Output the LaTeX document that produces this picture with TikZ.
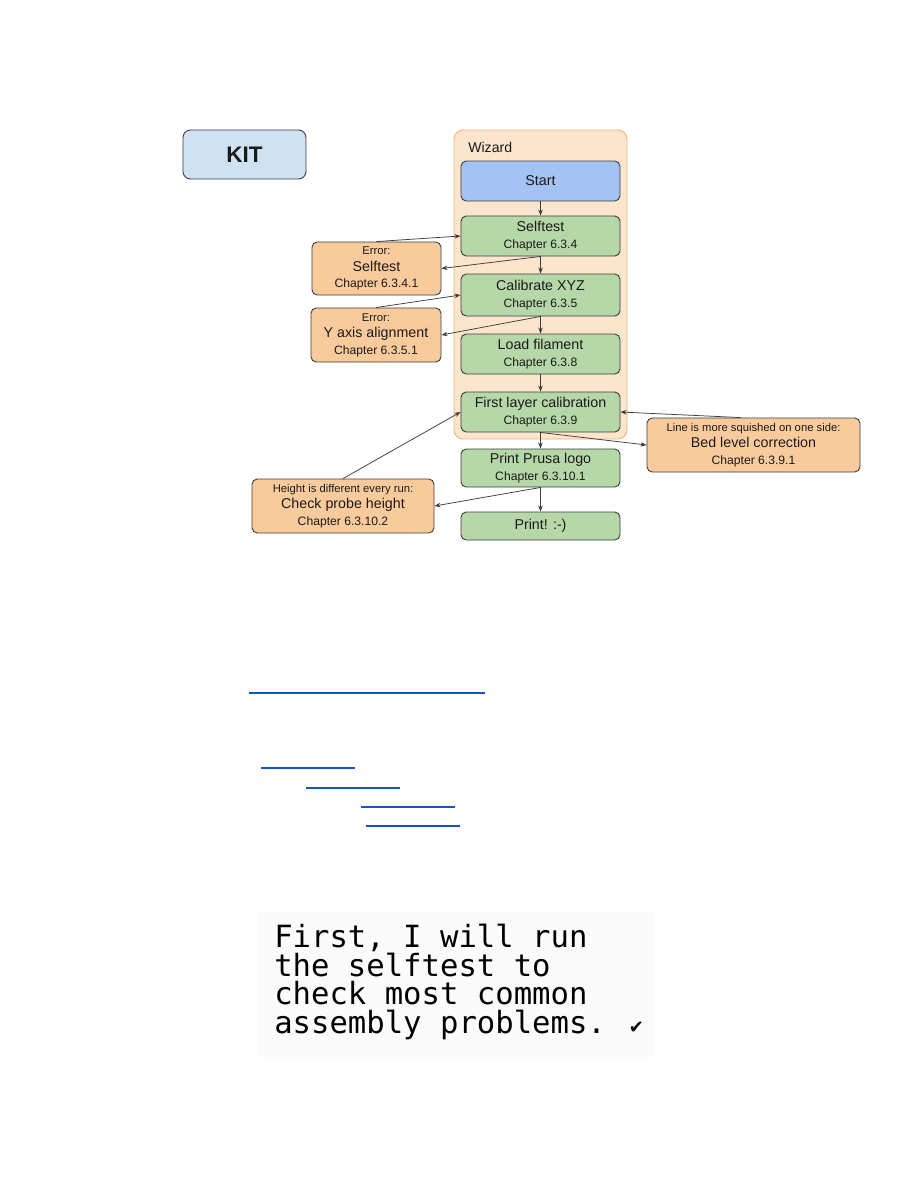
\documentclass[tikz,border=0pt]{standalone}
\usepackage{fontspec}
\setmainfont{Liberation Sans}
\newfontfamily\lcdfont{DejaVu Sans Mono}
\newfontfamily\symfont{DejaVu Sans}
\usetikzlibrary{arrows.meta,calc}
\definecolor{boxgreen}{HTML}{B6D7A8}
\definecolor{boxorange}{HTML}{F9CB9C}
\definecolor{wizfill}{HTML}{FCE5CD}
\definecolor{wizdraw}{HTML}{F6B26B}
\definecolor{kitblue}{HTML}{CFE2F3}
\definecolor{startblue}{HTML}{A4C2F4}
\definecolor{linkblue}{HTML}{1155CC}
\definecolor{edgegray}{HTML}{3C3C3C}
\definecolor{txtdark}{HTML}{1A1A1A}
\definecolor{lcdbg}{HTML}{FBFBFB}
\newlength\pxl \setlength\pxl{0.66667pt}
\newcommand\lblmain{\fontsize{9.5pt}{11.5pt}\selectfont}
\newcommand\lblchap{\fontsize{8.1pt}{11pt}\selectfont}
\newcommand\lblsmall{\fontsize{7.5pt}{10.5pt}\selectfont}
\tikzset{
  basebox/.style={draw=edgegray, line width=0.6pt, rounded corners=3.5pt, inner sep=0pt,
    align=center, text=txtdark, font=\lblchap},
  stepbox/.style={basebox, fill=boxgreen, minimum width=159*\pxl},
  errbox/.style={basebox, fill=boxorange},
  conn/.style={draw=edgegray, line width=0.5pt, -{Stealth[length=4pt,width=3pt]}},
  linkline/.style={draw=linkblue, line width=0.7pt},
}
\begin{document}
\begin{tikzpicture}[x=0.66667pt, y=-0.66667pt]
\useasboundingbox (0,0) rectangle (918,1188);

% KIT box
\node[basebox, fill=kitblue, rounded corners=5pt, minimum width=123*\pxl, minimum height=49*\pxl,
  font=\fontsize{15pt}{17pt}\selectfont\bfseries] (kit) at (244.5,154.5) {KIT};

% Wizard container
\node[draw=wizdraw, fill=wizfill, line width=0.6pt, rounded corners=6pt, inner sep=0pt,
  minimum width=173*\pxl, minimum height=309*\pxl] (wiz) at (540.5,284.5) {};
\node[anchor=west, inner sep=0pt, text=txtdark, font=\fontsize{9.4pt}{11pt}\selectfont] (wizlabel) at (468,147) {Wizard};

% Steps
\node[stepbox, fill=startblue, minimum height=40*\pxl, font=\lblmain] (start) at (540.5,181) {Start};
\node[stepbox, minimum height=40*\pxl] (self) at (540.5,236) {{\lblmain Selftest}\\Chapter 6.3.4};
\node[stepbox, minimum height=42*\pxl] (cal) at (540.5,295) {{\lblmain Calibrate XYZ}\\Chapter 6.3.5};
\node[stepbox, minimum height=40*\pxl] (load) at (540.5,354) {{\lblmain Load filament}\\Chapter 6.3.8};
\node[stepbox, minimum height=40*\pxl] (first) at (540.5,412) {{\lblmain First layer calibration}\\Chapter 6.3.9};
\node[stepbox, minimum height=38*\pxl] (prusa) at (540.5,468) {{\lblmain Print Prusa logo}\\Chapter 6.3.10.1};
\node[stepbox, minimum height=28*\pxl, font=\lblmain] (print) at (540.5,526) {Print! :-)};

% Error / correction boxes
\node[errbox, minimum width=129*\pxl, minimum height=53*\pxl] (errself) at (376.5,268.5)
  {{\lblsmall Error:}\\{\lblmain Selftest}\\Chapter 6.3.4.1};
\node[errbox, minimum width=130*\pxl, minimum height=54*\pxl] (erry) at (376,335)
  {{\lblsmall Error:}\\{\lblmain Y axis alignment}\\Chapter 6.3.5.1};
\node[errbox, minimum width=182*\pxl, minimum height=54*\pxl] (probe) at (343,506)
  {{\lblsmall Height is different every run:}\\{\lblmain Check probe height}\\Chapter 6.3.10.2};
\node[errbox, minimum width=213*\pxl, minimum height=54*\pxl] (bed) at (753.5,445)
  {{\lblsmall Line is more squished on one side:}\\{\lblmain Bed level correction}\\Chapter 6.3.9.1};

% Connectors
\draw[conn] (start) -- (self);
\draw[conn] (self) -- (cal);
\draw[conn] (cal) -- (load);
\draw[conn] (load) -- (first);
\draw[conn] (first) -- (prusa);
\draw[conn] (prusa) -- (print);
\draw[conn] (errself.north) -- (self.west);
\draw[conn] (self.south) -- (errself.east);
\draw[conn] (erry.north) -- (cal.west);
\draw[conn] (cal.south) -- (erry.east);
\draw[conn] (probe.north) -- (first.west);
\draw[conn] (prusa.south) -- (probe.east);
\draw[conn] ([xshift=-13*\pxl]bed.north) -- (first.east);
\draw[conn] (first.south) -- (bed.west);

% Link underlines
\draw[linkline] (249,693) -- (485,693);
\draw[linkline] (261,768) -- (355,768);
\draw[linkline] (306,788) -- (400,788);
\draw[linkline] (361,807) -- (455,807);
\draw[linkline] (366,826) -- (460,826);

% LCD screen text
\fill[lcdbg] (257,912) rectangle (655,1057);
\node[anchor=base west, inner sep=0pt, align=left,
  font=\lcdfont\fontsize{20.4pt}{18.9pt}\selectfont] (lcd) at (274,1033)
  {First, I will run\\the selftest to\\check most common\\assembly problems. \makebox[0.6em][l]{\hspace{-0.05em}\symfont\fontsize{12pt}{18.9pt}\selectfont ✔}};
\end{tikzpicture}
\end{document}
